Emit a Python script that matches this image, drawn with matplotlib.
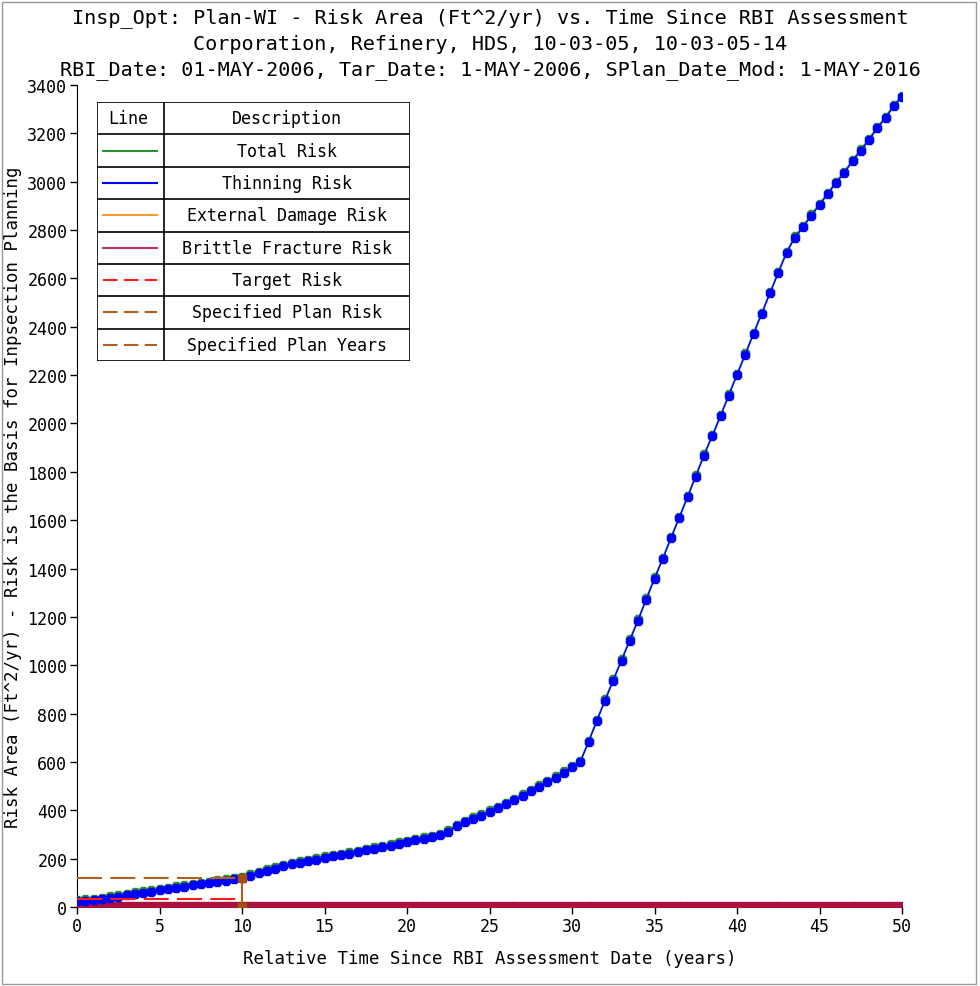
import numpy as np
import matplotlib
matplotlib.use("Agg")
import matplotlib.pyplot as plt
from matplotlib.patches import Rectangle

# time axis: every half year, 0..50
years = np.arange(0, 50.5, 0.5)

# thinning risk (ft^2/yr)
thinning = [
    24, 26, 28, 33, 38, 43, 49, 54, 59, 64,
    69, 74, 79, 84, 89, 94, 99, 104, 109, 114,
    120, 129, 140, 150, 159, 168, 176, 183, 190, 196,
    203, 209, 214, 220, 227, 234, 241, 247, 254, 262,
    268, 276, 282, 289, 298, 312, 334, 351, 366, 378,
    394, 408, 425, 442, 460, 478, 497, 516, 535, 555,
    578, 598, 681, 768, 853, 936, 1019, 1101, 1184, 1271,
    1357, 1439, 1525, 1609, 1694, 1780, 1867, 1947, 2029, 2115,
    2200, 2284, 2370, 2453, 2538, 2622, 2705, 2768, 2811, 2859,
    2903, 2949, 2994, 3036, 3084, 3128, 3172, 3221, 3263, 3312,
    3350,
]
external = [1] * len(years)
brittle = [5] * len(years)
total = [t + e + b for t, e, b in zip(thinning, external, brittle)]

target_risk = 33
plan_year = 10
plan_risk = 120

legend_labels = ["Total Risk", "Thinning Risk", "External Damage Risk",
                 "Brittle Fracture Risk", "Target Risk",
                 "Specified Plan Risk", "Specified Plan Years"]

GREEN = "#2f8f2f"
BLUE = "#0000ff"
ORANGE = "#ff9a2e"
CRIMSON = "#a8123f"
RED = "#ff1a1a"
BROWN = "#b0601c"

FONT = "DejaVu Sans Mono"
plt.rcParams["font.family"] = FONT

fig = plt.figure(figsize=(9.8, 9.87), dpi=100, facecolor="white")
ax = fig.add_axes([77 / 980, 79 / 987, 825 / 980, 822 / 987])

ax.plot(years, external, color=ORANGE, lw=1, marker="8", ms=4, zorder=2)
ax.plot(years, brittle, color=CRIMSON, lw=1, marker="s", ms=5.5, zorder=3)
ax.plot(years, total, color=GREEN, lw=1, marker="8", ms=6, zorder=4)
ax.plot(years, thinning, color=BLUE, lw=1, marker="8", ms=6, zorder=5)

ax.plot([0, plan_year], [target_risk, target_risk], color=RED, lw=1.5,
        dashes=(12, 4), zorder=6)
ax.plot([0, plan_year], [plan_risk, plan_risk], color=BROWN, lw=1.5,
        dashes=(12, 4), zorder=6)
ax.plot([plan_year, plan_year], [0, plan_risk], color=BROWN, lw=1.5,
        dashes=(12, 4), zorder=6)
ax.plot([plan_year, plan_year], [0, plan_risk], ls="none", marker="s",
        ms=6, color="#a0520d", zorder=7)

ax.set_xlim(0, 50)
ax.set_ylim(0, 3400)
ax.set_xticks(range(0, 51, 5))
ax.set_yticks(range(0, 3401, 200))
ax.spines["top"].set_visible(False)
ax.spines["right"].set_visible(False)
ax.tick_params(direction="out", length=5, width=1, labelsize=12, pad=2)
ax.set_xlabel("Relative Time Since RBI Assessment Date (years)",
              fontsize=12.5, labelpad=10)
ax.set_ylabel("Risk Area (Ft^2/yr) - Risk is the Basis for Inpsection Planning",
              fontsize=12.5, labelpad=4)

fig.text(0.5, 1 - 18 / 987, "Insp_Opt: Plan-WI - Risk Area (Ft^2/yr) vs. Time Since RBI Assessment",
         ha="center", va="center", fontsize=14.5)
fig.text(0.5, 1 - 45 / 987, "Corporation, Refinery, HDS, 10-03-05, 10-03-05-14",
         ha="center", va="center", fontsize=14.5)
fig.text(0.5, 1 - 70 / 987, "RBI_Date: 01-MAY-2006, Tar_Date: 1-MAY-2006, SPlan_Date_Mod: 1-MAY-2016",
         ha="center", va="center", fontsize=14.5)

# table-style legend, drawn in pixel coordinates
lg = fig.add_axes([97 / 980, (987 - 362) / 987, 313 / 980, 259 / 987])
lg.set_xlim(97, 410)
lg.set_ylim(362, 103)
lg.axis("off")
lg.add_patch(Rectangle((97, 103), 313, 259, fc="white", ec="black", lw=1.2))
rows = np.linspace(103, 362, 9)
for y in rows[1:-1]:
    lg.plot([97, 410], [y, y], color="black", lw=1.2)
lg.plot([164, 164], [103, 362], color="black", lw=1.2)
lg.text(128, (rows[0] + rows[1]) / 2, "Line", ha="center", va="center", fontsize=12)
lg.text(287, (rows[0] + rows[1]) / 2, "Description", ha="center", va="center", fontsize=12)
styles = [(GREEN, None), (BLUE, None), (ORANGE, None), ("#c03060", None),
          (RED, (7, 3)), (BROWN, (7, 3)), (BROWN, (7, 3))]
for i, (label, (col, dsh)) in enumerate(zip(legend_labels, styles)):
    yc = (rows[i + 1] + rows[i + 2]) / 2
    if dsh is None:
        lg.plot([103, 157], [yc, yc], color=col, lw=1.5)
    else:
        lg.plot([103, 157], [yc, yc], color=col, lw=1.5, dashes=dsh)
    lg.text(287, yc, label, ha="center", va="center", fontsize=12)

fig.patches.append(Rectangle((2 / 980, 2 / 987), 974 / 980, 982 / 987,
                             transform=fig.transFigure, fill=False,
                             ec="#999999", lw=1))

fig.savefig("out.png", dpi=100, facecolor="white")
